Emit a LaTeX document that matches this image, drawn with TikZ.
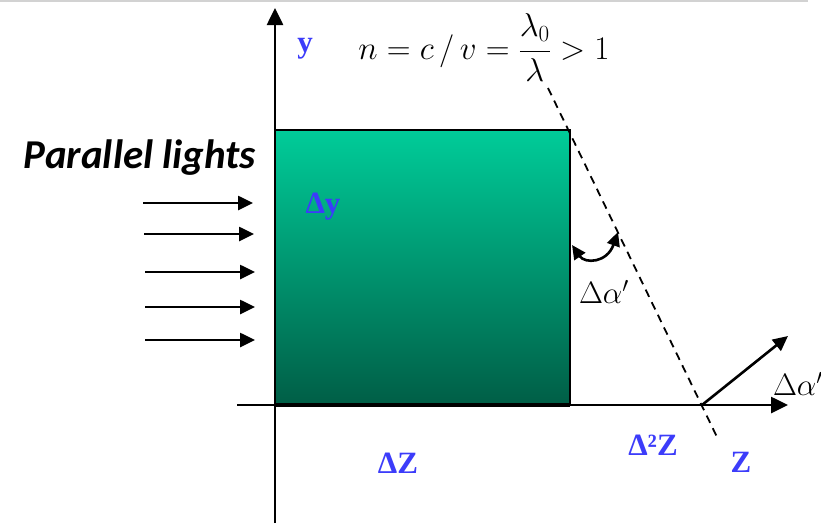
\RequirePackage{fix-cm}
\documentclass[tikz,border=0pt]{standalone}
\usepackage{amsmath}
\usepackage{fontspec}
\setmainfont{Liberation Serif}
\newfontfamily\lightfont{Carlito}
\usetikzlibrary{arrows.meta,calc}

\definecolor{labelblue}{RGB}{60,60,250}
\definecolor{slabtop}{RGB}{0,204,153}
\definecolor{slabbottom}{RGB}{0,94,70}

\begin{document}
\begin{tikzpicture}[x=1pt,y=-1pt,
  axis/.style={line width=2.6pt,-{Triangle[length=17pt,width=16pt]}},
  ray/.style={line width=2.6pt,-{Triangle[length=15pt,width=14pt]}},
  bluelabel/.style={text=labelblue,font=\fontsize{31}{31}\selectfont\bfseries},
  anglelabel/.style={font=\fontsize{31}{31}\selectfont}]
\useasboundingbox (0,0) rectangle (821,523);

\draw[gray!35,line width=1.5pt] (0,1) -- (808,1);

\coordinate (O) at (275,405);
\coordinate (Ytop) at (275,8);
\coordinate (Ybot) at (275,523);
\coordinate (Zleft) at (237,405);
\coordinate (Zright) at (788,405);
\coordinate (S1) at (275,130);
\coordinate (S2) at (570,405);
\coordinate (D1) at (548,88);
\coordinate (D2) at (717,437);
\coordinate (P) at (702,405);
\coordinate (Q) at (788,336);
\coordinate (C1) at (572,245);
\coordinate (C2) at (618,232);

% slab
\shade[top color=slabtop,bottom color=slabbottom] (S1) rectangle (S2);
\draw[line width=2pt] (S1) rectangle (S2);
\draw[line width=4pt] (O) -- (S2);

% axes
\draw[axis] (Ybot) -- (Ytop);
\draw[axis] (Zleft) -- (Zright);

% parallel lights
\foreach \i/\yy/\xs in {1/203/143,2/234/144,3/272/145,4/307/145,5/340/145}{
  \coordinate (L\i a) at (\xs,\yy);
  \coordinate (L\i b) at (\xs+110,\yy);
  \draw[ray] (L\i a) -- (L\i b);
}

% deflected direction
\draw[line width=1.8pt,dash pattern=on 8pt off 6pt] (D1) -- (D2);
\draw[line width=2.6pt,{Triangle[length=14pt,width=13pt]}-{Triangle[length=14pt,width=13pt]}]
  (C1) .. controls (585,264) and (607,263) .. (C2);
\draw[ray] (P) -- (Q);

\node[font=\lightfont\fontsize{41}{41}\selectfont\bfseries\itshape] (title) at (140,158) {Parallel lights};
\node[font=\fontsize{33}{33}\selectfont] (law) at (484,48) {$n = c\,/\,v = \dfrac{\lambda_0}{\lambda} > 1$};
\node[bluelabel] (ylab) at (305,49) {y};
\node[bluelabel] (dy) at (323,207) {Δy};
\node[bluelabel] (dz) at (398,463) {ΔZ};
\node[bluelabel] (ddz) at (653,445) {Δ²Z};
\node[bluelabel] (zlab) at (741,462) {Z};
\node[anglelabel] (da1) at (604,292) {$\Delta\alpha'$};
\node[anglelabel] (da2) at (798,384) {$\Delta\alpha'$};
\end{tikzpicture}
\end{document}
